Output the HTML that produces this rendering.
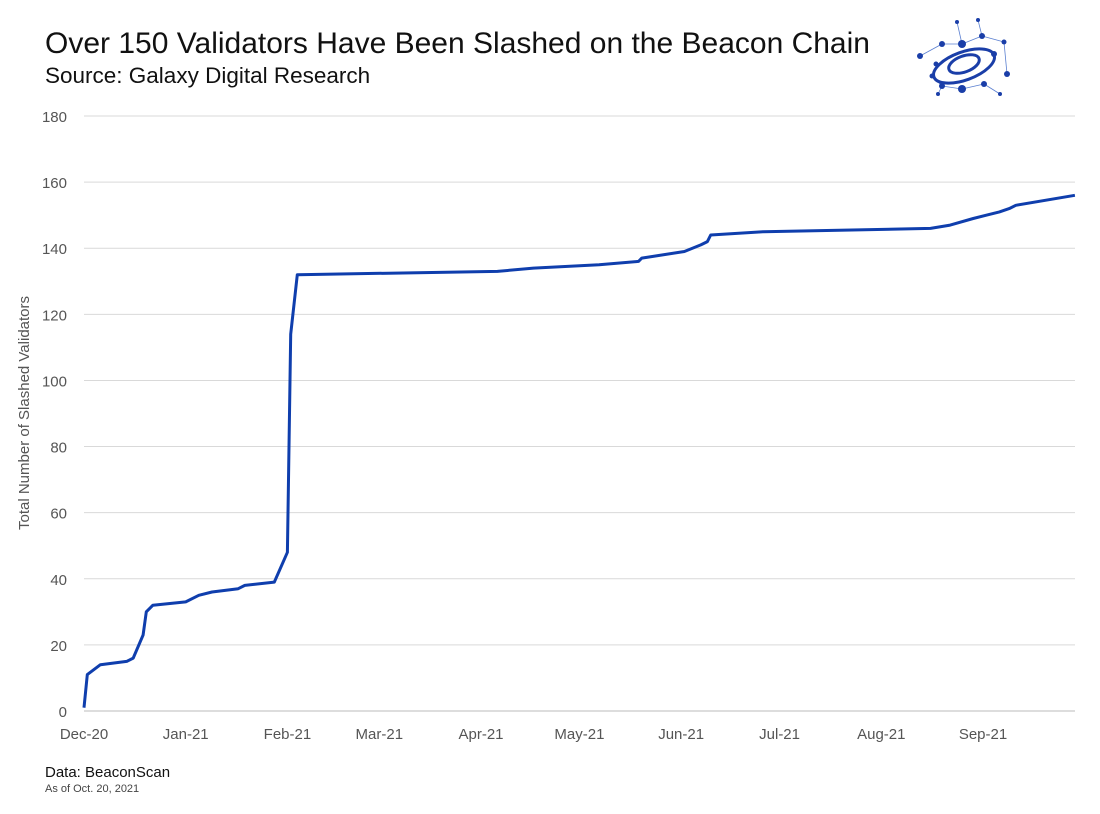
<!DOCTYPE html>
<html><head><meta charset="utf-8">
<style>
body{margin:0;background:#fff;font-family:"Liberation Sans",sans-serif;}
#wrap{position:relative;width:1100px;height:814px;overflow:hidden;}
.t{position:absolute;white-space:nowrap;color:#111;}
</style></head><body>
<div id="wrap">
<div class="t" style="left:45px;top:27px;font-size:30px;">Over 150 Validators Have Been Slashed on the Beacon Chain</div>
<div class="t" style="left:45px;top:63px;font-size:22.5px;">Source: Galaxy Digital Research</div>
<div class="t" style="left:45px;top:764px;font-size:15px;">Data: BeaconScan</div>
<div class="t" style="left:45px;top:783px;font-size:11px;color:#444;">As of Oct. 20, 2021</div>
<svg style="position:absolute;left:912px;top:14px" width="104" height="94" viewBox="0 0 104 94">
 <g stroke="#5a7fd0" stroke-width="0.8" fill="none">
  <line x1="8" y1="42" x2="30" y2="30"/><line x1="30" y1="30" x2="50" y2="30"/><line x1="50" y1="30" x2="70" y2="22"/>
  <line x1="70" y1="22" x2="92" y2="28"/><line x1="92" y1="28" x2="95" y2="60"/><line x1="30" y1="72" x2="50" y2="75"/>
  <line x1="50" y1="75" x2="72" y2="70"/><line x1="72" y1="70" x2="88" y2="80"/><line x1="20" y1="62" x2="30" y2="72"/>
  <line x1="45" y1="8" x2="50" y2="30"/><line x1="66" y1="6" x2="70" y2="22"/><line x1="26" y1="80" x2="30" y2="72"/>
 </g>
 <ellipse cx="52" cy="52" rx="32" ry="14" transform="rotate(-20 52 52)" stroke="#1a3ea8" stroke-width="3" fill="none"/>
 <ellipse cx="52" cy="50" rx="16" ry="8" transform="rotate(-20 52 50)" stroke="#1a3ea8" stroke-width="3" fill="none"/>
 <g fill="#1a3ea8">
  <circle cx="8" cy="42" r="3"/><circle cx="30" cy="30" r="3"/><circle cx="50" cy="30" r="4"/><circle cx="70" cy="22" r="3"/>
  <circle cx="92" cy="28" r="2.5"/><circle cx="95" cy="60" r="3"/><circle cx="30" cy="72" r="3"/><circle cx="50" cy="75" r="4"/>
  <circle cx="72" cy="70" r="3"/><circle cx="88" cy="80" r="2"/><circle cx="20" cy="62" r="2.5"/><circle cx="45" cy="8" r="2"/>
  <circle cx="66" cy="6" r="2"/><circle cx="26" cy="80" r="2"/><circle cx="82" cy="40" r="3"/><circle cx="24" cy="50" r="2.5"/>
 </g>
</svg>
<svg id="chart" style="position:absolute;left:0;top:0" width="1100" height="814"></svg>
</div>
<script>
const yTicks=[0,20,40,60,80,100,120,140,160,180];
const xLabels=["Dec-20","Jan-21","Feb-21","Mar-21","Apr-21","May-21","Jun-21","Jul-21","Aug-21","Sep-21"];
const xLabelDays=[0,31,62,90,121,151,182,212,243,274];
const days=[0,1,5,13,15,18,19,21,31,35,39,47,49,58,62,63,65,126,137,157,169,170,183,188,190,191,207,258,264,271,275,279,282,284,302];
const values=[1,11,14,15,16,23,30,32,33,35,36,37,38,39,48,114,132,133,134,135,136,137,139,141,142,144,145,146,147,149,150,151,152,153,156];
const NS="http://www.w3.org/2000/svg";
const svg=document.getElementById('chart');
const x0=84,x1=1075,yTop=116,yBot=711;
const xs=d=>x0+d*(983-84)/274;
const ys=v=>yBot-v*(yBot-yTop)/180;
function mk(tag,attrs){const e=document.createElementNS(NS,tag);for(const k in attrs)e.setAttribute(k,attrs[k]);svg.appendChild(e);return e;}
yTicks.forEach(v=>{
 if(v>0){const g=mk('line',{x1:x0,x2:x1,y1:ys(v),y2:ys(v),stroke:'#d9d9d9','stroke-width':1});
 
 }
 const t=mk('text',{x:67,y:ys(v)+6,'text-anchor':'end','font-size':15,fill:'#555','font-family':'Liberation Sans, sans-serif'});
 t.textContent=v;
 
 
});
const ax=mk('line',{x1:x0,x2:x1,y1:yBot,y2:yBot,stroke:'#bbb','stroke-width':1});


xLabels.forEach((l,i)=>{
 const t=mk('text',{x:xs(xLabelDays[i]),y:739,'text-anchor':'middle','font-size':15,fill:'#555','font-family':'Liberation Sans, sans-serif'});
 t.textContent=l;
 
 
});
const yt=mk('text',{x:0,y:0,'text-anchor':'middle','font-size':15,fill:'#555','font-family':'Liberation Sans, sans-serif',transform:'translate(29,413) rotate(-90)'});
yt.textContent='Total Number of Slashed Validators';


const pts=days.map((d,i)=>xs(d).toFixed(1)+','+ys(values[i]).toFixed(1)).join(' ');
const pl=mk('polyline',{points:pts,fill:'none',stroke:'#0f3ead','stroke-width':3,'stroke-linejoin':'round'});


</script>
</body></html>
